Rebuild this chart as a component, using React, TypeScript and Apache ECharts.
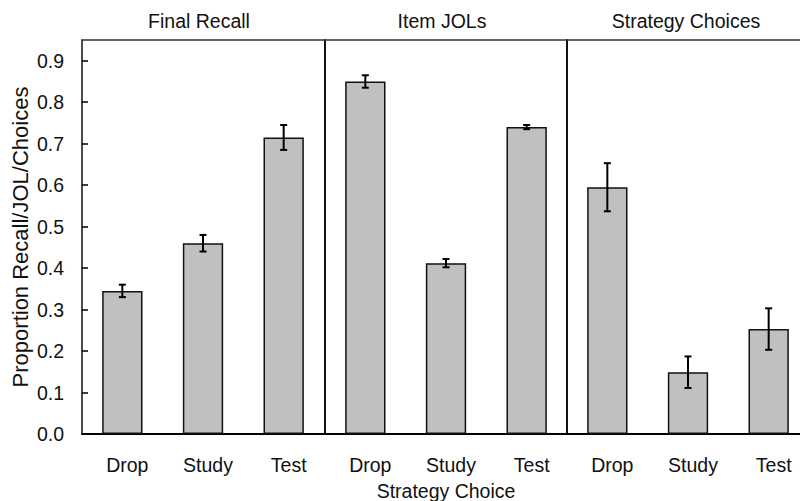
import React, { useEffect, useRef } from "react";
import * as echarts from "echarts";

const panels = ["Final Recall", "Item JOLs", "Strategy Choices"];
const categories = ["Drop", "Study", "Test"];
const means = [
  [0.345, 0.46, 0.715],
  [0.85, 0.412, 0.74],
  [0.595, 0.149, 0.253],
];
const errors = [
  [0.015, 0.02, 0.03],
  [0.015, 0.01, 0.005],
  [0.058, 0.038, 0.05],
];
const yTicks = [0, 0.1, 0.2, 0.3, 0.4, 0.5, 0.6, 0.7, 0.8, 0.9];

const FONT = "Liberation Sans, Arial, sans-serif";
const FS = 19.5;

export default function App() {
  const ref = useRef<HTMLDivElement>(null);
  useEffect(() => {
    if (!ref.current) return;
    const chart = echarts.init(ref.current, undefined, { renderer: "svg" });
    const lefts = [82, 325, 567];
    const width = 242;
    const titleX = [199, 442, 686];
    const grids = lefts.map((l) => ({
      left: l,
      width,
      top: 40,
      height: 394,
      outerBoundsMode: "none",
      containLabel: false,
      show: false,
    }));
    const xAxes: any[] = [];
    lefts.forEach((_, i) => {
      xAxes.push({
        type: "category",
        gridIndex: i,
        position: "bottom",
        data: categories,
        axisLine: { lineStyle: { color: "#000", width: 2 } },
        axisTick: { show: false },
        axisLabel: { margin: 21, fontSize: FS, color: "#111", fontFamily: FONT, padding: [0, 0, 0, 10] },
        ...(i === 1
          ? {
              name: "Strategy Choice",
              nameLocation: "middle",
              nameGap: 47,
              nameTextStyle: { fontSize: FS, color: "#111", fontFamily: FONT },
            }
          : {}),
      });
      xAxes.push({
        type: "category",
        gridIndex: i,
        position: "top",
        data: categories,
        axisLine: { lineStyle: { color: "#333", width: 1.5 } },
        axisTick: { show: false },
        axisLabel: { show: false },
      });
    });
    const yAxes = lefts.map((_, i) => ({
      type: "value",
      gridIndex: i,
      min: 0,
      max: 0.95,
      interval: 0.1,
      splitLine: { show: false },
      axisLine: { show: true, lineStyle: { color: "#111", width: i === 0 ? 1.5 : 2 } },
      axisTick: { show: i === 0, inside: true, length: 6, lineStyle: { color: "#000", width: 1.5 } },
      axisLabel: {
        show: i === 0,
        fontSize: FS,
        color: "#111",
        fontFamily: FONT,
        margin: 18,
        showMaxLabel: false,
        formatter: (v: number) => (yTicks.some((t) => Math.abs(t - v) < 1e-6) ? v.toFixed(1) : ""),
      },
      ...(i === 0
        ? {
            name: "Proportion Recall/JOL/Choices",
            nameLocation: "middle",
            nameGap: 51,
            nameTextStyle: { fontSize: 22, color: "#111", fontFamily: FONT },
          }
        : {}),
    }));
    const series: any[] = [];
    means.forEach((m, i) => {
      series.push({
        type: "bar",
        xAxisIndex: i * 2,
        yAxisIndex: i,
        data: m,
        barWidth: "50%",
        itemStyle: { color: "#c0c0c0", borderColor: "#111", borderWidth: 1.5 },
        silent: true,
      });
      series.push({
        type: "custom",
        xAxisIndex: i * 2,
        yAxisIndex: i,
        data: m.map((v, j) => [j, v - errors[i][j], v + errors[i][j]]),
        z: 10,
        renderItem: (params: any, api: any) => {
          const x = api.value(0);
          const lo = api.coord([x, api.value(1)]);
          const hi = api.coord([x, api.value(2)]);
          const cap = 3.5;
          const style = { stroke: "#000", lineWidth: 2 };
          return {
            type: "group",
            children: [
              { type: "line", shape: { x1: lo[0], y1: lo[1], x2: hi[0], y2: hi[1] }, style },
              { type: "line", shape: { x1: lo[0] - cap, y1: lo[1], x2: lo[0] + cap, y2: lo[1] }, style },
              { type: "line", shape: { x1: hi[0] - cap, y1: hi[1], x2: hi[0] + cap, y2: hi[1] }, style },
            ],
          };
        },
      });
    });
    chart.setOption({
      animation: false,
      backgroundColor: "#fff",
      textStyle: { fontFamily: FONT },
      grid: grids,
      xAxis: xAxes,
      yAxis: yAxes,
      series,
      graphic: panels.map((p, i) => ({
        type: "text",
        x: titleX[i],
        y: 21,
        style: {
          text: p,
          fontSize: FS,
          fill: "#111",
          fontFamily: FONT,
          textAlign: "center",
          textVerticalAlign: "middle",
        },
      })),
    });
    return () => chart.dispose();
  }, []);
  return (
    <div style={{ width: 800, height: 501, position: "absolute", left: 0, top: 0, overflow: "hidden" }}>
      <div ref={ref} style={{ width: 812, height: 501 }} />
    </div>
  );
}
